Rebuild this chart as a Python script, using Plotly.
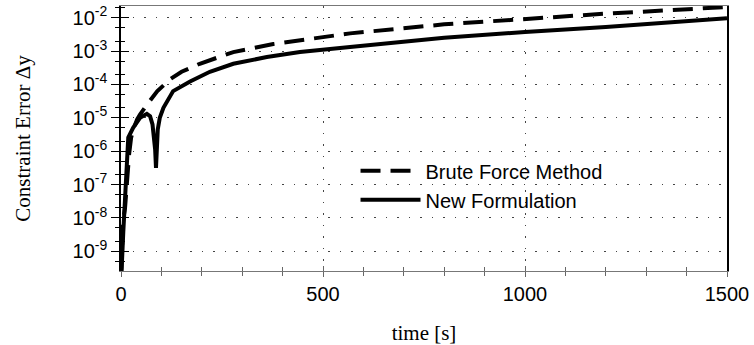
import plotly.graph_objects as go

# Data (time in s, log10 of constraint error)
t_brute = [0.5, 2, 5, 10, 15, 20, 25, 30, 40, 47, 67, 90, 121, 150, 195, 278, 377, 567, 800, 1000, 1200, 1500]
log_brute = [-9.7, -8.9, -8.1, -7.7, -6.8, -6.1, -5.6, -5.35, -5.05, -4.9, -4.56, -4.2, -3.85, -3.62, -3.38, -3.03,
             -2.79, -2.47, -2.2, -2.03, -1.88, -1.68]

t_new = [0.5, 1.7, 5.7, 9.9, 14, 18, 30, 47, 64, 72, 78, 82, 84.5, 86.6, 88.5, 91, 96, 105, 129, 171, 220, 278,
         361, 443, 567, 800, 1000, 1200, 1500]
log_new = [-9.7, -9.5, -8.41, -7.44, -6.26, -5.59, -5.3, -5.0, -4.88, -4.95, -5.2, -5.55, -5.95, -6.5, -5.9,
           -5.35, -5.0, -4.7, -4.2, -3.91, -3.62, -3.38, -3.18, -3.03, -2.88, -2.6, -2.43, -2.28, -2.02]

y_brute = [10 ** v for v in log_brute]
y_new = [10 ** v for v in log_new]

y_tick_exps = [-2, -3, -4, -5, -6, -7, -8, -9]
y_tick_vals = [10 ** e for e in y_tick_exps]
y_tick_text = ["10<sup>%d</sup>" % e for e in y_tick_exps]
x_tick_vals = [0, 500, 1000, 1500]

SANS = "Liberation Sans, Arial, sans-serif"
SERIF = "Liberation Serif, Times New Roman, serif"

fig = go.Figure()
fig.add_trace(go.Scatter(x=t_brute, y=y_brute, mode="lines", name="Brute Force Method",
                         line=dict(color="black", width=4, dash="20px,10px")))
fig.add_trace(go.Scatter(x=t_new, y=y_new, mode="lines", name="New Formulation",
                         line=dict(color="black", width=4)))

yrange = [-9.59, -1.65]
xrange = [0, 1500]
GRID_DASH = "1.5px,10px"
GRID_COLOR = "#444"

fig.update_layout(
    width=754, height=345,
    margin=dict(l=121, r=27, t=3, b=72),
    paper_bgcolor="white", plot_bgcolor="white",
    showlegend=True,
    legend=dict(x=0.387, y=0.452, xanchor="left", yanchor="top",
                bgcolor="rgba(0,0,0,0)", font=dict(family=SANS, size=20, color="black"),
                itemwidth=60, tracegroupgap=0),
    xaxis=dict(range=xrange, tickvals=x_tick_vals, ticks="outside", ticklen=5, tickcolor="#666",
               tickfont=dict(family=SANS, size=20, color="black"),
               showline=True, linecolor="#777", linewidth=1, mirror=True,
               showgrid=True, gridcolor=GRID_COLOR, griddash=GRID_DASH, gridwidth=1, zeroline=False,
               minor=dict(dtick=100, ticks="outside", ticklen=4, tickcolor="#666", showgrid=False),
               title=dict(text="time [s]", font=dict(family=SERIF, size=21, color="black"), standoff=22)),
    yaxis=dict(type="log", range=yrange, tickvals=y_tick_vals, ticktext=y_tick_text,
               ticks="outside", ticklen=8, tickcolor="black",
               tickfont=dict(family=SANS, size=20, color="black"),
               showline=True, linecolor="black", linewidth=1.5, mirror=True,
               showgrid=True, gridcolor=GRID_COLOR, griddash=GRID_DASH, gridwidth=1, zeroline=False,
               minor=dict(ticks="outside", ticklen=4, tickcolor="black", showgrid=False),
               title=dict(text="Constraint Error \u0394y", font=dict(family=SERIF, size=21, color="black"),
                          standoff=36)),
    # overlay axes to make ticks cross the axis lines
    xaxis2=dict(overlaying="x", matches="x", range=xrange, tickvals=x_tick_vals, ticks="inside", ticklen=5,
                tickcolor="#666", showticklabels=False, showgrid=False, zeroline=False, showline=False,
                side="bottom", anchor="y",
                minor=dict(dtick=100, ticks="inside", ticklen=4, tickcolor="#666", showgrid=False)),
    yaxis2=dict(overlaying="y", type="log", range=yrange, tickvals=y_tick_vals, ticks="inside", ticklen=8,
                tickcolor="black", showticklabels=False, showgrid=False, zeroline=False, showline=False,
                side="left", anchor="x",
                minor=dict(ticks="inside", ticklen=4, tickcolor="black", showgrid=False)),
)

# invisible trace to activate the overlay axes
fig.add_trace(go.Scatter(x=[None], y=[None], xaxis="x2", yaxis="y2", showlegend=False, hoverinfo="skip"))

fig.write_html("out.html", config={"displayModeBar": False},
               post_script="document.body.style.margin='0';document.body.style.padding='0';")
